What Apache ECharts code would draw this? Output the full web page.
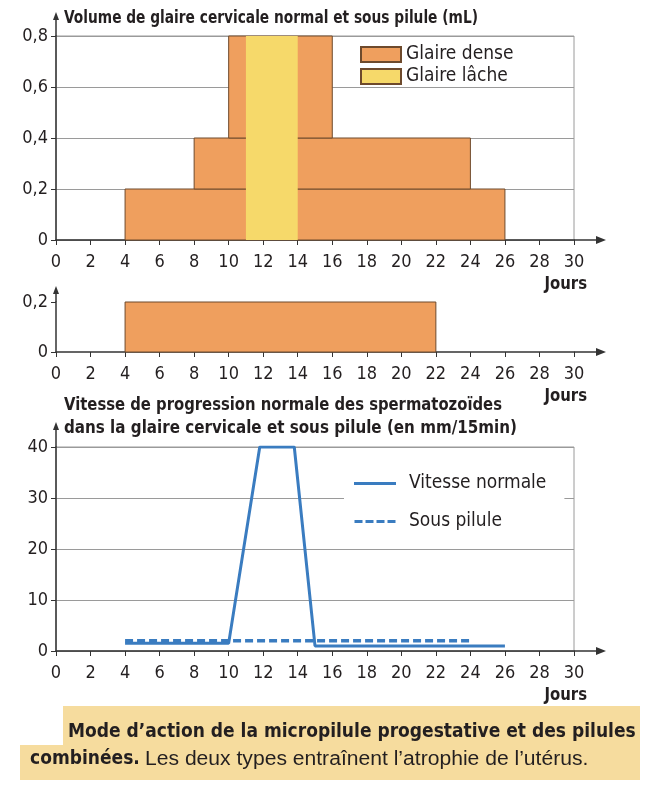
<!DOCTYPE html>
<html>
<head>
<meta charset="utf-8">
<script src="https://cdn.jsdelivr.net/npm/echarts@6/dist/echarts.min.js"></script>
<style>
  html, body { margin: 0; padding: 0; background: #fff; }
  #main { width: 645px; height: 787px; }
</style>
</head>
<body>
<div id="main"></div>
<script>
// jours (axe x commun aux 3 graphes)
const joursMin = 0;
const joursMax = 30;
const joursPas = 2;

// volume de glaire (mL) : [debut, fin, bas, haut]
const volumeTicks = [0, 0.2, 0.4, 0.6, 0.8];
const glaireDense = [[4, 26, 0, 0.2], [8, 24, 0.2, 0.4], [10, 16, 0.4, 0.8]];
const glaireLache = [[11, 14, 0, 0.8]];
const glairePilule = [[4, 22, 0, 0.2]];

// vitesse (mm/15min)
const vitesseTicks = [0, 10, 20, 30, 40];
const vitesseNormale = [[4, 1.5], [10, 1.5], [11.8, 40], [13.8, 40], [15, 1], [26, 1]];
const vitessePilule = [[4, 2], [24, 2]];

const FONT = "'DejaVu Sans Condensed', 'DejaVu Sans', sans-serif";
const FONT_R = "'Liberation Sans', Arial, sans-serif";
const TXT = '#231f20';
const DENSE = '#EF9F5E';
const LACHE = '#F6D96A';
const BORD = '#6e4a2c';
const BLEU = '#3a7cc0';

// cadre des graphes (px)
const L = 56, W = 518;
const grids = [
  { left: L, width: W, top: 36, height: 204 },
  { left: L, width: W, top: 302, height: 50 },
  { left: L, width: W, top: 447, height: 204 }
];

var chart = echarts.init(document.getElementById('main'));

function renderBlock(color, stroke) {
  return function (params, api) {
    var p0 = api.coord([api.value(0), api.value(3)]);
    var p1 = api.coord([api.value(1), api.value(2)]);
    return {
      type: 'rect',
      shape: { x: p0[0], y: p0[1], width: p1[0] - p0[0], height: p1[1] - p0[1] },
      style: { fill: color, stroke: stroke ? BORD : null, lineWidth: 1 }
    };
  };
}

function xAxe(i) {
  return {
    gridIndex: i, type: 'value', min: joursMin, max: joursMax, interval: joursPas,
    axisLine: { lineStyle: { color: '#333', width: 1.5 } },
    axisTick: { length: 5, lineStyle: { color: '#333' } },
    axisLabel: { color: TXT, fontSize: 18, fontFamily: FONT, margin: 13 },
    splitLine: { show: false }
  };
}

function yAxe(i, ticks, fmt, grille) {
  return {
    gridIndex: i, type: 'value', min: ticks[0], max: ticks[ticks.length - 1],
    interval: ticks[1] - ticks[0],
    axisLine: { show: true, lineStyle: { color: '#333', width: 1.5 } },
    axisTick: { show: true, length: 5, lineStyle: { color: '#333' } },
    axisLabel: { color: TXT, fontSize: 18, fontFamily: FONT, margin: 8, formatter: fmt },
    splitLine: { show: grille, lineStyle: { color: '#9a9a9a', width: 1 } }
  };
}

var virgule = function (v) { return String(+v.toFixed(1)).replace('.', ','); };

function texte(x, y, t, font, sx, align) {
  return {
    type: 'text', x: x, y: y, scaleX: sx || 1,
    style: { text: t, font: font, fill: TXT, align: align || 'left', verticalAlign: 'middle' }
  };
}

// fleches au bout des axes
function fleches() {
  var out = [];
  grids.forEach(function (g, i) {
    var y0 = g.top + g.height;
    var xe = g.left + g.width;
    out.push({ type: 'line', shape: { x1: xe, y1: y0, x2: 598, y2: y0 }, style: { stroke: '#333', lineWidth: 1.5 } });
    out.push({ type: 'polygon', shape: { points: [[606, y0], [596, y0 - 4], [596, y0 + 4]] }, style: { fill: '#333' } });
    var yt = [12, 286, 422][i];
    out.push({ type: 'line', shape: { x1: L, y1: g.top, x2: L, y2: yt + 6 }, style: { stroke: '#333', lineWidth: 1.5 } });
    out.push({ type: 'polygon', shape: { points: [[L, yt], [L - 3, yt + 8], [L + 3, yt + 8]] }, style: { fill: '#333' } });
    out.push(texte(587, y0 + 44, 'Jours', 'bold 18px ' + FONT, 0.92, 'right'));
  });
  return out;
}

var tiret = 'path://M0,0h8v3h-8z M11,0h8v3h-8z M22,0h8v3h-8z M33,0h8v3h-8z';
var plein = 'path://M0,0h42v3h-42z';

var option = {
  animation: false,
  backgroundColor: '#fff',
  textStyle: { fontFamily: FONT },
  grid: [
    Object.assign({ show: true, borderColor: '#9a9a9a', borderWidth: 1 }, grids[0]),
    Object.assign({ show: false }, grids[1]),
    Object.assign({ show: true, borderColor: '#9a9a9a', borderWidth: 1 }, grids[2])
  ],
  xAxis: [xAxe(0), xAxe(1), xAxe(2)],
  yAxis: [
    yAxe(0, volumeTicks, virgule, true),
    yAxe(1, [0, 0.2], virgule, false),
    yAxe(2, vitesseTicks, null, true)
  ],
  legend: [
    {
      data: ['Glaire dense', 'Glaire lâche'], orient: 'vertical', left: 355, top: 40,
      icon: 'rect', itemWidth: 40, itemHeight: 15, itemGap: 3,
      textStyle: { color: TXT, fontSize: 19, fontFamily: FONT },
      selectedMode: false
    },
    {
      data: [{ name: 'Vitesse normale', icon: plein }, { name: 'Sous pilule', icon: tiret }],
      orient: 'vertical', left: 344, top: 468,
      padding: [6, 18, 6, 10], backgroundColor: '#fff',
      itemWidth: 42, itemHeight: 3, itemGap: 19,
      textStyle: { color: TXT, fontSize: 19, fontFamily: FONT, padding: [0, 0, 0, 8] },
      selectedMode: false
    }
  ],
  series: [
    {
      name: 'Glaire dense', type: 'custom', xAxisIndex: 0, yAxisIndex: 0,
      renderItem: renderBlock(DENSE, true), data: glaireDense,
      encode: { x: [0, 1], y: [2, 3] },
      itemStyle: { color: DENSE, borderColor: BORD, borderWidth: 1 }
    },
    {
      name: 'Glaire lâche', type: 'custom', xAxisIndex: 0, yAxisIndex: 0,
      renderItem: renderBlock(LACHE, false), data: glaireLache,
      encode: { x: [0, 1], y: [2, 3] },
      itemStyle: { color: LACHE, borderColor: BORD, borderWidth: 1 }
    },
    {
      name: 'Glaire sous pilule', type: 'custom', xAxisIndex: 1, yAxisIndex: 1,
      renderItem: renderBlock(DENSE, true), data: glairePilule,
      encode: { x: [0, 1], y: [2, 3] },
      itemStyle: { color: DENSE }
    },
    {
      name: 'Vitesse normale', type: 'line', xAxisIndex: 2, yAxisIndex: 2,
      data: vitesseNormale, symbol: 'none',
      lineStyle: { color: BLEU, width: 3 }, itemStyle: { color: BLEU }
    },
    {
      name: 'Sous pilule', type: 'line', xAxisIndex: 2, yAxisIndex: 2,
      data: vitessePilule, symbol: 'none',
      lineStyle: { color: BLEU, width: 3.5, type: [8, 4] }, itemStyle: { color: BLEU }
    }
  ],
  graphic: fleches().concat([
    texte(64, 18, 'Volume de glaire cervicale normal et sous pilule (mL)', 'bold 18px ' + FONT, 0.85),
    texte(142, 214, 'Normal', '19px ' + FONT, 0.95),
    texte(142, 327, 'Sous pilule', '19px ' + FONT, 0.95),
    texte(64, 405, 'Vitesse de progression normale des spermatozoïdes', 'bold 18px ' + FONT, 0.915),
    texte(64, 428, 'dans la glaire cervicale et sous pilule (en mm/15min)', 'bold 18px ' + FONT, 0.935),
    {
      type: 'polygon',
      shape: { points: [[63, 706], [640, 706], [640, 780], [20, 780], [20, 745], [63, 745]] },
      style: { fill: '#F6DC9E' }
    },
    texte(68, 732, 'Mode d’action de la micropilule progestative et des pilules', 'bold 19px ' + FONT),
    texte(30, 759, 'combinées.', 'bold 19px ' + FONT),
    texte(145, 759, 'Les deux types entraînent l’atrophie de l’utérus.', '20px ' + FONT_R, 1.055)
  ])
};

chart.setOption(option);
</script>
</body>
</html>
